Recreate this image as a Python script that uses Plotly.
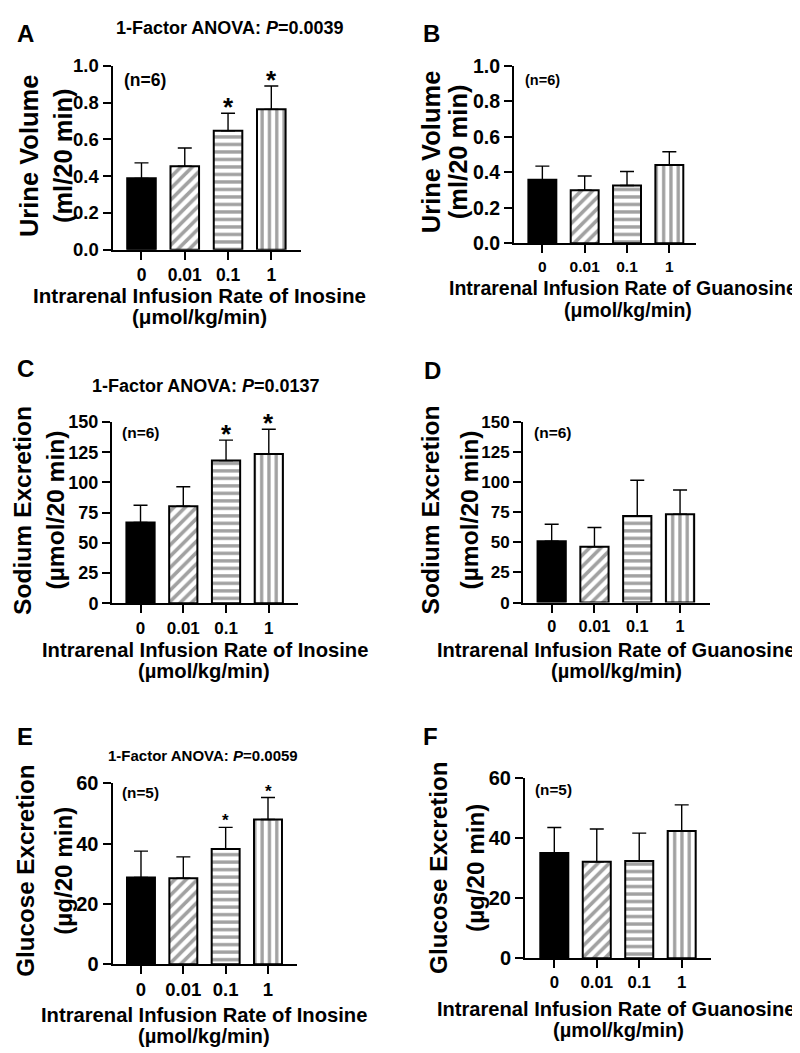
import plotly.graph_objects as go

# ---------------- data ----------------
doses = ["0", "0.01", "0.1", "1"]

urine_inosine = [0.388, 0.454, 0.646, 0.763]
urine_inosine_sem = [0.084, 0.099, 0.096, 0.127]
urine_guanosine = [0.357, 0.298, 0.325, 0.441]
urine_guanosine_sem = [0.077, 0.081, 0.079, 0.074]

sodium_inosine = [66.8, 80.3, 118.1, 123.5]
sodium_inosine_sem = [14.3, 16.2, 17.0, 20.6]
sodium_guanosine = [51.0, 46.4, 71.9, 73.5]
sodium_guanosine_sem = [14.1, 16.0, 29.8, 20.1]

glucose_inosine = [28.8, 28.5, 38.2, 48.0]
glucose_inosine_sem = [8.7, 7.1, 7.2, 7.3]
glucose_guanosine = [35.0, 32.1, 32.3, 42.3]
glucose_guanosine_sem = [8.5, 10.9, 9.3, 8.7]

significant_inosine = [False, False, True, True]

# ---------------- layout helpers ----------------
W, H = 800, 1053
FONT = "Liberation Sans, Arial, sans-serif"


def px(x):
    return x / W


def py(y):
    return 1 - y / H


panels = [
    dict(letter="A", mean=urine_inosine, sem=urine_inosine_sem, stars=significant_inosine,
         xd=(104.5, 293), yd=(47.7, 235.7), xr=(-0.67, 3.686), yr=(0, 1.0), dtick=0.2, fmt=".1f",
         ytf=18.5, xtf=17.5, starf=26, stary=-11, ytitle_f=25.5,
         title="1-Factor ANOVA: <i>P</i>=0.0039", title_pos=(222, 9), title_f=18,
         n="(n=6)", n_pos=(137, 62), n_f=17.5, letter_pos=(17, 15),
         ytitle=("Urine Volume", "(ml/20 min)"), yt_x=(21, 55), yt_y=140,
         xtitle=("Intrarenal Infusion Rate of Inosine", "(\u03bcmol/kg/min)"),
         xt_pos=((191, 282.5), (191, 304)), xt_f=20.6),
    dict(letter="B", mean=urine_guanosine, sem=urine_guanosine_sem, stars=None,
         xd=(506, 688), yd=(47.7, 229), xr=(-0.67, 3.63), yr=(0, 1.0), dtick=0.2, fmt=".1f",
         ytf=19.5, xtf=15.5, ytitle_f=25.5,
         title=None,
         n="(n=6)", n_pos=(534, 62), n_f=14.5, letter_pos=(423, 15),
         ytitle=("Urine Volume", "(ml/20 min)"), yt_x=(423, 450), yt_y=136,
         xtitle=("Intrarenal Infusion Rate of Guanosine", "(\u03bcmol/kg/min)"),
         xt_pos=((615, 275), (620, 297)), xt_f=19.5),
    dict(letter="C", mean=sodium_inosine, sem=sodium_inosine_sem, stars=significant_inosine,
         xd=(104, 290), yd=(411.7, 596.7), xr=(-0.667, 3.683), yr=(0, 150), dtick=25, fmt="d",
         ytf=18, xtf=17, starf=26, stary=-11, ytitle_f=24.6,
         title="1-Factor ANOVA: <i>P</i>=0.0137", title_pos=(198, 375), title_f=18,
         n="(n=6)", n_pos=(132, 422), n_f=15.5, letter_pos=(17, 357),
         ytitle=("Sodium Excretion", "(\u00b5mol/20 min)"), yt_x=(14.5, 48), yt_y=502,
         xtitle=("Intrarenal Infusion Rate of Inosine", "(\u00b5mol/kg/min)"),
         xt_pos=((197, 644), (196, 666)), xt_f=20.2),
    dict(letter="D", mean=sodium_guanosine, sem=sodium_guanosine_sem, stars=None,
         xd=(515, 702), yd=(411.7, 596), xr=(-0.67, 3.70), yr=(0, 150), dtick=25, fmt="d",
         ytf=17, xtf=16.3, ytitle_f=24.6,
         title=None,
         n="(n=6)", n_pos=(544, 422), n_f=15.5, letter_pos=(424, 359),
         ytitle=("Sodium Excretion", "(\u00b5mol/20 min)"), yt_x=(423, 462), yt_y=502,
         xtitle=("Intrarenal Infusion Rate of Guanosine", "(\u00b5mol/kg/min)"),
         xt_pos=((608, 644), (608, 666)), xt_f=20.1),
    dict(letter="E", mean=glucose_inosine, sem=glucose_inosine_sem, stars=significant_inosine,
         xd=(104.5, 289), yd=(780.7, 965.3), xr=(-0.673, 3.685), yr=(0, 60), dtick=20, fmt="d",
         ytf=20, xtf=18.5, starf=17, stary=-5, ytitle_f=24.2,
         title="1-Factor ANOVA: <i>P</i>=0.0059", title_pos=(195, 752), title_f=15,
         n="(n=5)", n_pos=(132, 790), n_f=15.3, letter_pos=(17, 733),
         ytitle=("Glucose Excretion", "(\u00b5g/20 min)"), yt_x=(18, 56), yt_y=870,
         xtitle=("Intrarenal Infusion Rate of Inosine", "(\u00b5mol/kg/min)"),
         xt_pos=((196, 1017), (196, 1039)), xt_f=20.2),
    dict(letter="F", mean=glucose_guanosine, sem=glucose_guanosine_sem, stars=None,
         xd=(517, 703), yd=(775, 959.3), xr=(-0.69, 3.69), yr=(0, 60), dtick=20, fmt="d",
         ytf=20, xtf=16.8, ytitle_f=24.2,
         title=None,
         n="(n=5)", n_pos=(545, 787), n_f=15.3, letter_pos=(422, 733),
         ytitle=("Glucose Excretion", "(\u00b5g/20 min)"), yt_x=(431, 468), yt_y=867,
         xtitle=("Intrarenal Infusion Rate of Guanosine", "(\u00b5mol/kg/min)"),
         xt_pos=((608, 1011), (610, 1033)), xt_f=20.1),
]

fig = go.Figure()
annotations = []
layout_axes = {}

for i, p in enumerate(panels, start=1):
    xa = "x" if i == 1 else f"x{i}"
    ya = "y" if i == 1 else f"y{i}"
    fig.add_trace(go.Bar(
        x=doses, y=p["mean"], xaxis=xa, yaxis=ya, width=0.66,
        marker=dict(
            color=["black", "white", "white", "white"],
            line=dict(color="black", width=2),
            pattern=dict(shape=["", "/", "-", "|"], fgcolor="black", bgcolor="white",
                         size=[8, 8, 7.5, 7.3], solidity=0.45),
        ),
        error_y=dict(type="data", symmetric=False, array=p["sem"], arrayminus=[0, 0, 0, 0],
                     color="black", thickness=1.4, width=7),
        showlegend=False, hoverinfo="skip",
    ))
    axis_common = dict(showline=True, linecolor="black", linewidth=2, ticks="outside",
                       ticklen=8, tickwidth=1.8, tickcolor="black", showgrid=False,
                       zeroline=False, fixedrange=True)
    layout_axes["xaxis" if i == 1 else f"xaxis{i}"] = dict(
        axis_common, domain=[px(p["xd"][0]), px(p["xd"][1])], anchor=ya,
        type="category", range=list(p["xr"]),
        tickfont=dict(family=FONT, size=p["xtf"], color="black", weight="bold"))
    layout_axes["yaxis" if i == 1 else f"yaxis{i}"] = dict(
        axis_common, domain=[py(p["yd"][1]), py(p["yd"][0])], anchor=xa,
        range=list(p["yr"]), dtick=p["dtick"], tick0=0, tickformat=p["fmt"],
        tickfont=dict(family=FONT, size=p["ytf"], color="black", weight="bold"))

    def ann(text, x, y, size, **kw):
        d = dict(text=text, x=px(x), y=py(y), xref="paper", yref="paper", showarrow=False,
                 xanchor="center", yanchor="middle",
                 font=dict(family=FONT, size=size, color="black", weight="bold"))
        d.update(kw)
        annotations.append(d)

    ann(p["letter"], p["letter_pos"][0], p["letter_pos"][1], 24)
    if p["title"]:
        ann(p["title"], p["title_pos"][0], p["title_pos"][1], p["title_f"])
    ann(p["n"], p["n_pos"][0], p["n_pos"][1], p["n_f"])
    ann(p["ytitle"][0], p["yt_x"][0], p["yt_y"], p["ytitle_f"], textangle=-90)
    ann(p["ytitle"][1], p["yt_x"][1], p["yt_y"], p["ytitle_f"], textangle=-90)
    ann(p["xtitle"][0], p["xt_pos"][0][0], p["xt_pos"][0][1], p["xt_f"])
    ann(p["xtitle"][1], p["xt_pos"][1][0], p["xt_pos"][1][1], p["xt_f"])

    if p["stars"]:
        for j, (m, s, sig) in enumerate(zip(p["mean"], p["sem"], p["stars"])):
            if sig:
                annotations.append(dict(
                    text="*", x=j, y=m + s, xref=xa, yref=ya, showarrow=False,
                    xanchor="center", yanchor="bottom", yshift=p["stary"],
                    font=dict(family=FONT, size=p["starf"], color="black", weight="bold")))

fig.update_layout(
    width=W, height=H, margin=dict(l=0, r=0, t=0, b=0),
    paper_bgcolor="white", plot_bgcolor="white",
    annotations=annotations, **layout_axes,
)

fig.write_html("out.html")
